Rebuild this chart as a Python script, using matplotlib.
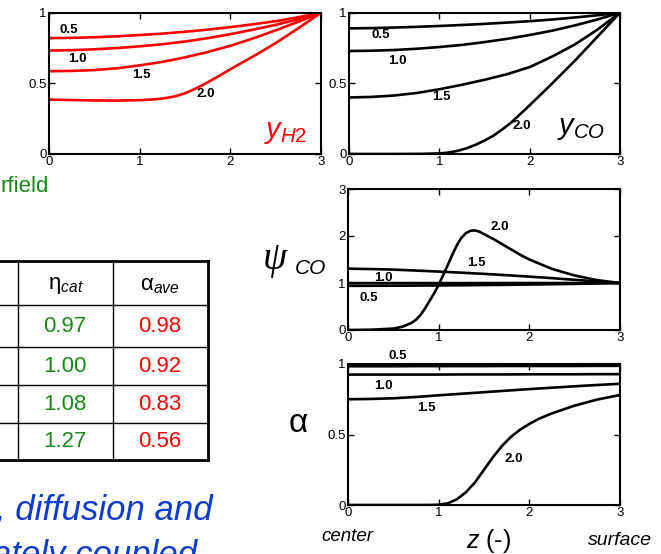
import numpy as np
import matplotlib.pyplot as plt

plt.rcParams['font.family'] = ['Liberation Sans', 'DejaVu Sans']
plt.rcParams['mathtext.fontset'] = 'custom'
plt.rcParams['mathtext.rm'] = 'Liberation Sans'
plt.rcParams['mathtext.it'] = 'Liberation Sans:italic'
plt.rcParams['mathtext.bf'] = 'Liberation Sans:bold'

W, H = 661, 554

# dimensionless radial position: 0 = pellet center, 3 = surface
z = [0.0, 0.25, 0.5, 0.75, 1.0, 1.25, 1.5, 1.75, 2.0, 2.25, 2.5, 2.75, 3.0]
cases = ['0.5', '1.0', '1.5', '2.0']

# H2 mole fraction profiles
y_h2_05 = [0.820, 0.822, 0.826, 0.833, 0.842, 0.852, 0.865, 0.880, 0.898, 0.918, 0.940, 0.968, 1.0]
y_h2_10 = [0.732, 0.735, 0.741, 0.750, 0.762, 0.777, 0.796, 0.820, 0.848, 0.880, 0.914, 0.954, 1.0]
y_h2_15 = [0.586, 0.588, 0.594, 0.607, 0.627, 0.652, 0.684, 0.722, 0.766, 0.818, 0.875, 0.936, 1.0]
z_h2_20 = [0.0, 0.25, 0.5, 0.75, 1.0, 1.1, 1.2, 1.3, 1.4, 1.5, 1.6, 1.7, 1.8, 1.9, 2.0, 2.25, 2.5, 2.75, 3.0]
y_h2_20 = [0.385, 0.382, 0.379, 0.378, 0.381, 0.384, 0.389, 0.397, 0.410, 0.430, 0.458, 0.490, 0.525, 0.562, 0.600, 0.690, 0.785, 0.890, 1.0]

# CO mole fraction profiles
y_co_05 = [0.889, 0.891, 0.895, 0.900, 0.906, 0.913, 0.921, 0.930, 0.940, 0.952, 0.966, 0.982, 1.0]
y_co_10 = [0.729, 0.731, 0.736, 0.745, 0.757, 0.772, 0.792, 0.815, 0.842, 0.873, 0.910, 0.952, 1.0]
y_co_15 = [0.400, 0.404, 0.414, 0.432, 0.458, 0.490, 0.525, 0.565, 0.615, 0.690, 0.775, 0.880, 1.0]
z_co_20 = [0.0, 0.5, 0.8, 1.0, 1.1, 1.2, 1.3, 1.4, 1.5, 1.6, 1.7, 1.8, 1.9, 2.0, 2.25, 2.5, 2.75, 3.0]
y_co_20 = [0.0, 0.0, 0.001, 0.004, 0.010, 0.022, 0.040, 0.065, 0.095, 0.130, 0.175, 0.225, 0.285, 0.345, 0.500, 0.660, 0.830, 1.0]

# psi_CO profiles
psi_05 = [0.940, 0.941, 0.943, 0.945, 0.948, 0.952, 0.956, 0.961, 0.967, 0.974, 0.981, 0.990, 1.0]
psi_10 = [0.998, 0.998, 0.998, 0.998, 0.998, 0.998, 0.999, 0.999, 0.999, 0.999, 1.0, 1.0, 1.0]
psi_15 = [1.305, 1.297, 1.285, 1.265, 1.243, 1.220, 1.194, 1.166, 1.136, 1.103, 1.068, 1.033, 1.0]
z_psi_20 = [0.0, 0.25, 0.5, 0.6, 0.7, 0.75, 0.8, 0.85, 0.9, 0.95, 1.0, 1.05, 1.1, 1.15, 1.2, 1.25,
            1.3, 1.35, 1.4, 1.45, 1.5, 1.6, 1.75, 1.9, 2.0, 2.25, 2.5, 2.75, 3.0]
psi_20 = [0.0, 0.005, 0.03, 0.07, 0.15, 0.22, 0.32, 0.46, 0.62, 0.78, 0.96, 1.17, 1.38, 1.60, 1.80, 1.96,
          2.06, 2.11, 2.12, 2.09, 2.04, 1.94, 1.77, 1.60, 1.50, 1.30, 1.16, 1.06, 1.0]

# catalyst alpha profiles
alpha_05 = [0.984, 0.984, 0.984, 0.985, 0.985, 0.985, 0.985, 0.986, 0.986, 0.986, 0.986, 0.987, 0.987]
alpha_10 = [0.925, 0.925, 0.925, 0.925, 0.925, 0.926, 0.926, 0.926, 0.927, 0.927, 0.927, 0.928, 0.928]
alpha_15 = [0.750, 0.752, 0.757, 0.766, 0.778, 0.789, 0.800, 0.811, 0.822, 0.832, 0.842, 0.851, 0.860]
z_alpha_20 = [0.0, 0.5, 0.9, 1.0, 1.1, 1.2, 1.3, 1.4, 1.5, 1.6, 1.7, 1.8, 1.9, 2.0, 2.1, 2.25, 2.5, 2.75, 3.0]
alpha_20 = [0.0, 0.0, 0.0, 0.002, 0.012, 0.04, 0.09, 0.16, 0.25, 0.34, 0.42, 0.485, 0.535, 0.575, 0.61, 0.65, 0.705, 0.748, 0.78]

# summary table
eta_cat = ['0.97', '1.00', '1.08', '1.27']
alpha_ave = ['0.98', '0.92', '0.83', '0.56']

GREEN = '#188a18'
RED = '#ff0000'
BLUE = '#0b3bcf'

fig = plt.figure(figsize=(W / 100, H / 100), dpi=100)

# full-figure layer for the table and free text, in pixel units
bg = fig.add_axes([0, 0, 1, 1])
bg.set_xlim(0, W)
bg.set_ylim(H, 0)
bg.axis('off')


def panel(left, top, right, bottom):
    ax = fig.add_axes([left / W, 1 - bottom / H, (right - left) / W, (bottom - top) / H])
    ax.tick_params(direction='in', length=4, width=1, top=True, right=True,
                   labelsize=9.5, pad=1.5)
    for s in ax.spines.values():
        s.set_linewidth(1.5)
    ax.set_xlim(0, 3)
    ax.set_xticks([0, 1, 2, 3])
    return ax


def label_curves(ax, spots):
    for txt, (x, y) in zip(cases, spots):
        ax.text(x, y, txt, ha='center', va='center', fontsize=9.5, fontweight='bold')


lw = 1.9

# y_H2
ax1 = panel(49, 12.7, 321, 154)
for yy in (y_h2_05, y_h2_10, y_h2_15):
    ax1.plot(z, yy, color=RED, lw=lw)
ax1.plot(z_h2_20, y_h2_20, color=RED, lw=lw)
ax1.set_ylim(0, 1)
ax1.set_yticks([0, 0.5, 1])
ax1.set_yticklabels(['0', '0.5', '1'])
label_curves(ax1, [(0.22, 0.88), (0.31, 0.675), (1.02, 0.56), (1.725, 0.424)])
ax1.text(2.37, 0.115, r'$y_{H2}$', color=RED, fontsize=21, ha='left', va='baseline')

# y_CO
ax2 = panel(349, 12.7, 620, 154)
for yy in (y_co_05, y_co_10, y_co_15):
    ax2.plot(z, yy, color='black', lw=lw)
ax2.plot(z_co_20, y_co_20, color='black', lw=lw)
ax2.set_ylim(0, 1)
ax2.set_yticks([0, 0.5, 1])
ax2.set_yticklabels(['0', '0.5', '1'])
label_curves(ax2, [(0.354, 0.842), (0.54, 0.659), (1.026, 0.402), (1.91, 0.2)])
ax2.text(2.30, 0.14, r'$y_{CO}$', color='black', fontsize=21, ha='left', va='baseline')

# psi_CO
ax3 = panel(348, 189, 620, 330)
for yy in (psi_05, psi_10, psi_15):
    ax3.plot(z, yy, color='black', lw=lw)
ax3.plot(z_psi_20, psi_20, color='black', lw=lw)
ax3.set_ylim(0, 3)
ax3.set_yticks([0, 1, 2, 3])
label_curves(ax3, [(0.232, 0.69), (0.386, 1.11), (1.417, 1.43), (1.67, 2.2)])

# alpha
ax4 = panel(348, 364, 620, 505)
for yy in (alpha_05, alpha_10, alpha_15):
    ax4.plot(z, yy, color='black', lw=lw)
ax4.plot(z_alpha_20, alpha_20, color='black', lw=lw)
ax4.set_ylim(0, 1)
ax4.set_yticks([0, 0.5, 1])
ax4.set_yticklabels(['0', '0.5', '1'])
label_curves(ax4, [(0.552, 1.059), (0.386, 0.844), (0.865, 0.686), (1.83, 0.324)])

# axis captions
bg.text(275, 259, 'ψ', family=['Liberation Serif', 'DejaVu Serif'], style='italic',
        fontsize=28, ha='center', va='center')
bg.text(311, 268, 'CO', style='italic', fontsize=15, ha='center', va='center')
bg.text(298, 423, 'α', fontsize=24, ha='center', va='center')
bg.text(347, 541, 'center', style='italic', fontsize=13.5, ha='center', va='baseline')
bg.text(620, 545, 'surface', style='italic', fontsize=14, ha='center', va='baseline')
bg.text(489, 548, r'$z$ (-)', fontsize=18, ha='center', va='baseline')

# summary table
rows = [261, 305, 347, 385, 423, 460]
cols = [18, 113, 208]
for i, r in enumerate(rows):
    edge = i in (0, len(rows) - 1)
    bg.plot([-5, cols[-1]], [r, r], color='black', lw=2.0 if edge else 1.0,
            solid_capstyle='projecting')
for j, c in enumerate(cols):
    bg.plot([c, c], [rows[0], rows[-1]], color='black', lw=2.0 if j == len(cols) - 1 else 1.0,
            solid_capstyle='projecting')

bg.text(66, 286, 'η$_{cat}$', fontsize=16, ha='center', va='center')
bg.text(160, 286, 'α$_{ave}$', fontsize=16, ha='center', va='center')
for k in range(len(eta_cat)):
    yc = (rows[k + 1] + rows[k + 2]) / 2
    bg.text(65, yc, eta_cat[k], color=GREEN, fontsize=16, ha='center', va='center')
    bg.text(160, yc, alpha_ave[k], color=RED, fontsize=16, ha='center', va='center')

# slide text around the plots
bg.text(49, 192, 'rfield', color=GREEN, fontsize=16, ha='right', va='baseline')
bg.text(213, 519, ', diffusion and', color=BLUE, fontsize=25, style='italic',
        ha='right', va='baseline')
bg.text(197, 565, 'ately coupled', color=BLUE, fontsize=25, style='italic',
        ha='right', va='baseline')

fig.savefig('out.png', dpi=100)
